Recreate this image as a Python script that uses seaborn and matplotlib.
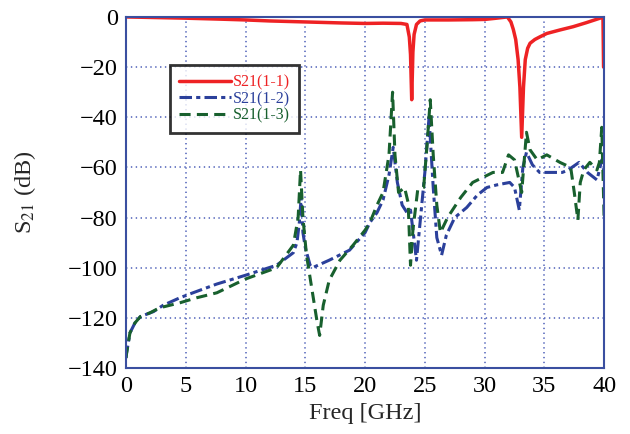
import matplotlib
matplotlib.use("Agg")
import matplotlib.pyplot as plt
import seaborn as sns
import numpy as np
import pandas as pd

# ---------------- data ----------------
f11 = [0, 2, 5, 8, 10, 12, 15, 18, 20, 21.5, 23.0, 23.5, 23.7, 23.8, 23.9, 24.0, 24.1, 24.3, 24.6,
       25, 27, 29, 30, 31, 31.9, 32.2, 32.4, 32.6, 32.8, 32.95, 33.1, 33.25, 33.4, 33.6, 33.8, 34.2,
       34.6, 35.2, 36.3, 37.4, 38.5, 39.65, 39.9, 39.95]
s11 = [0, -0.2, -0.5, -0.9, -1.2, -1.6, -2.0, -2.4, -2.6, -2.5, -2.6, -3.0, -8, -15, -33, -14, -7, -3, -1.6,
       -1.2, -1.2, -1.1, -1.0, -0.5, 0, -2, -5, -9, -17, -28, -48, -28, -17, -12.5, -10.5, -9,
       -8, -6.6, -5.2, -3.9, -2.3, -0.5, -0.1, -20]

f12 = [0, 0.05, 0.33, 0.75, 1.2, 2.3, 3.1, 4.5, 5.6, 7.6, 10, 12.6, 14.0, 14.3, 14.5, 14.65, 14.8, 15.0,
       15.4, 15.6, 17, 18.7, 20, 20.4, 21, 21.5, 22.0, 22.35, 22.7, 23.1, 23.5, 23.8, 24.0, 24.3, 24.6,
       25.0, 25.35, 25.7, 26.0, 26.4, 26.8, 27.5, 28.5, 29.4, 30.2, 31.0, 32.1, 32.5, 32.9, 33.2, 33.5,
       34.0, 34.6, 35.5, 36.5, 37.0, 37.9, 38.6, 39.4, 39.8, 40]
s12 = [-136, -134, -126, -122, -119.5, -117.5, -115, -112, -110, -106.5, -103, -99, -94, -90, -82, -72, -86, -92,
       -99, -100, -97, -93, -86, -82, -78, -73, -63, -52, -66, -75, -78, -77, -85, -97, -82,
       -62, -40, -68, -88, -95, -87, -80, -76, -71, -68, -67, -66, -68, -77, -60, -54,
       -59, -62, -62, -62, -61, -58, -62, -65, -57, -62]

f13 = [0, 0.05, 0.33, 0.75, 1.2, 2.0, 2.8, 4.5, 5.9, 7.6, 10, 12.6, 14.0, 14.4, 14.6, 14.8, 15.1, 15.6,
       16.0, 16.2, 16.5, 17.0, 17.9, 19.0, 20.0, 20.4, 21.0, 21.5, 22.0, 22.3, 22.5, 22.8, 23.3, 23.6,
       23.8, 24.0, 24.4, 24.9, 25.2, 25.45, 25.7, 26.0, 26.3, 26.9, 28.0, 29.0, 30.7, 31.5, 32.0, 32.5,
       33.1, 33.5, 33.8, 34.4, 35.2, 36.3, 37.2, 37.5, 37.8, 38.0, 38.3, 38.8, 39.4, 39.6, 39.8, 40]
s13 = [-136, -134, -126, -122, -119.5, -118, -116, -114, -112, -110, -104.5, -100, -91, -80, -61, -80, -95, -110,
       -122, -127, -115, -105, -97, -91, -85, -82, -75, -70, -55, -30, -55, -70, -68, -74,
       -99, -85, -69, -68, -50, -33, -55, -75, -86, -80, -72, -66, -62, -62, -55, -57,
       -70, -46, -53, -57, -55, -58, -60, -70, -81, -66, -61, -58, -61, -58, -44, -81]

labels = ["S21(1-1)", "S21(1-2)", "S21(1-3)"]
colors = ["#ee2224", "#2b409b", "#18602e"]

# ---------------- plot ----------------
sns.set_theme(style="white")
plt.rcParams["font.family"] = ["Liberation Serif", "DejaVu Serif"]
plt.rcParams["mathtext.fontset"] = "stix"
plt.rcParams["lines.scale_dashes"] = False

fig = plt.figure(figsize=(6.3, 4.34), dpi=100)
ax = fig.add_axes([0.2, 0.152, 0.759, 0.809])

series = [(f11, s11), (f12, s12), (f13, s13)]
styles = ["-", (0, (9, 3, 3, 3)), (0, (8, 4.5))]
widths = [2.5, 2.2, 2.2]
for (fx, sy), lab, c, ls, lw in zip(series, labels, colors, styles, widths):
    df = pd.DataFrame({"f": fx, "s": sy})
    sns.lineplot(data=df, x="f", y="s", ax=ax, color=c, linewidth=lw,
                 linestyle=ls, label=lab, estimator=None, sort=False)

ax.set_xlim(0, 40)
ax.set_ylim(-140, 0)
ax.set_xticks(np.arange(0, 41, 5))
ax.set_yticks(np.arange(-140, 1, 20))
ax.grid(True, color="#5a6bbd", linestyle=(0, (1, 2.5)), linewidth=1.2)
for sp in ax.spines.values():
    sp.set_color("#3a4fa0")
    sp.set_linewidth(1.5)
ax.tick_params(axis="both", direction="in", length=4, width=1, color="#3a4fa0",
               labelsize=17.5, labelcolor="black", pad=6)
ax.set_xlabel("Freq [GHz]", fontsize=17.5, labelpad=4)
ax.set_ylabel(r"S$_{21}$ (dB)", fontsize=17.5)
ax.yaxis.set_label_coords(-0.183, 0.5)

leg = ax.legend(loc="upper left", bbox_to_anchor=(0.092, 0.862), fontsize=11.5,
                frameon=True, fancybox=False, handlelength=3.3, handletextpad=0.1,
                labelspacing=0.05, borderpad=0.55, borderaxespad=0)
leg.get_frame().set_edgecolor("black")
leg.get_frame().set_linewidth(2)
for t, c in zip(leg.get_texts(), colors):
    t.set_color(c)

fig.savefig("out.png", dpi=100)
